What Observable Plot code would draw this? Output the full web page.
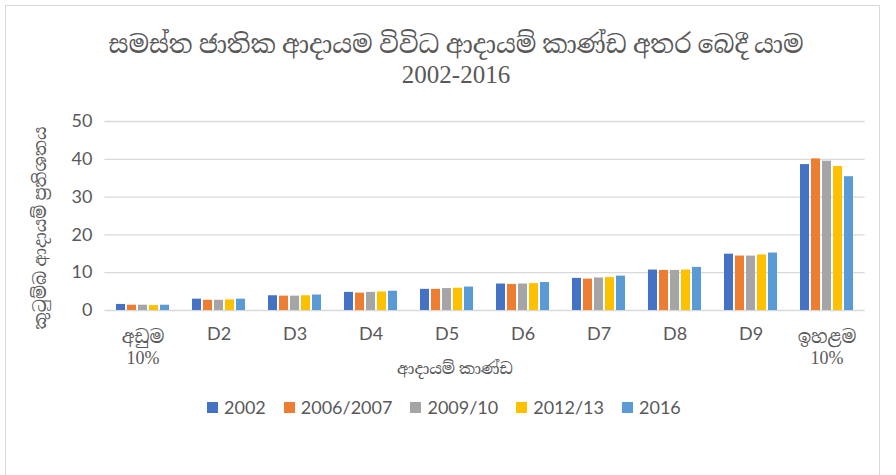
<!DOCTYPE html>
<html>
<head>
<meta charset="utf-8">
<script src="https://cdn.jsdelivr.net/npm/d3@7"></script>
<script src="https://cdn.jsdelivr.net/npm/@observablehq/plot@0.6"></script>
<style>
  body { margin: 0; background: #fff; }
  #wrap { position: relative; width: 896px; height: 475px; overflow: hidden; background: #fff; }
  #frame { position: absolute; left: 5px; top: 5px; width: 875px; height: 480px; border: 1px solid #d9d9d9; box-sizing: border-box; }
  #chart { position: absolute; left: 0; top: 0; }
  .t { position: absolute; color: #595959; white-space: nowrap; font-family: "Liberation Serif", "Noto Serif Sinhala", "Noto Sans Sinhala", "Iskoola Pota", serif; }
  #title1 { left: 0; width: 912px; top: 30px; text-align: center; font-size: 25px; line-height: 30px; }
  #title2 { left: 0; width: 912px; top: 60px; text-align: center; font-size: 25px; line-height: 30px; }
  #ylabel { left: 40px; top: 228px; font-size: 17px; transform: translate(-50%, -50%) rotate(-90deg); }
  #xlabel { left: 455px; top: 368px; font-size: 16px; transform: translate(-50%, -50%); }
  #legend { position: absolute; left: 207px; top: 396px; display: flex; gap: 18px; font-family: Lato, "Open Sans", sans-serif; font-size: 18px; color: #595959; }
  #legend .it { display: flex; align-items: center; gap: 6px; }
  #legend .sw { width: 11px; height: 11px; }
</style>
</head>
<body>
<div id="wrap">
  <div id="frame"></div>
  <div id="chart"></div>
  <div class="t" id="title1">සමස්ත ජාතික ආදායම විවිධ ආදායම් කාණ්ඩ අතර බෙදී යාම</div>
  <div class="t" id="title2">2002-2016</div>
  <div class="t" id="ylabel">කුටුම්බ ආදායම් ප්‍රතිශතය</div>
  <div class="t" id="xlabel">ආදායම් කාණ්ඩ</div>
  <div id="legend"></div>
</div>
<script>
const categories = ["අඩුම 10%", "D2", "D3", "D4", "D5", "D6", "D7", "D8", "D9", "ඉහළම 10%"];
const series = ["2002", "2006/2007", "2009/10", "2012/13", "2016"];
const colors = ["#4472C4", "#ED7D31", "#A5A5A5", "#FFC000", "#5B9BD5"];
const yTicks = [0, 10, 20, 30, 40, 50];

const v2002 = [1.6, 3.0, 3.9, 4.8, 5.6, 7.0, 8.5, 10.7, 14.9, 38.6];
const v2006 = [1.4, 2.7, 3.8, 4.6, 5.6, 6.9, 8.3, 10.6, 14.4, 40.1];
const v2009 = [1.4, 2.7, 3.8, 4.8, 5.8, 7.0, 8.6, 10.6, 14.4, 39.5];
const v2012 = [1.3, 2.8, 3.9, 4.9, 5.9, 7.1, 8.7, 10.7, 14.7, 38.1];
const v2016 = [1.4, 3.0, 4.1, 5.1, 6.2, 7.4, 9.1, 11.4, 15.2, 35.4];

const valuesBySeries = [v2002, v2006, v2009, v2012, v2016];
const data = [];
series.forEach((s, i) => categories.forEach((c, j) => data.push({cat: c, series: s, value: valuesBySeries[i][j]})));

const sansFont = "Lato, 'Open Sans', sans-serif";
const serifFont = "'Liberation Serif', 'Noto Serif Sinhala', 'Noto Sans Sinhala', serif";

const chart = Plot.plot({
  width: 896,
  height: 475,
  marginLeft: 102,
  marginRight: 29,
  marginTop: 121,
  marginBottom: 165,
  style: {background: "transparent", color: "#595959"},
  fx: {domain: categories, paddingInner: 0.25, paddingOuter: 0.125, label: null, axis: null},
  x: {domain: series, paddingInner: 0.18, paddingOuter: 0, axis: null},
  y: {domain: [0, 50], label: null, axis: null},
  color: {domain: series, range: colors},
  marks: [
    Plot.ruleY(yTicks, {stroke: "#d9d9d9", strokeWidth: 1.3, insetLeft: -9.6, insetRight: -9.6}),
    Plot.barY(data, {fx: "cat", x: "series", y: "value", fill: "series"}),
    Plot.axisY({ticks: yTicks, tickSize: 0, tickPadding: 22, fontSize: 18, fontFamily: sansFont, fill: "#595959", label: null}),
    Plot.axisFx({anchor: "bottom", ticks: categories.slice(1, 9), tickSize: 0, tickPadding: 17, fontSize: 18, fontFamily: sansFont, fill: "#595959", label: null}),
    Plot.axisFx({anchor: "bottom", ticks: [categories[0], categories[9]], tickFormat: d => d.replace(" ", "\n"), tickSize: 0, tickPadding: 17, fontSize: 18, lineHeight: 1.2, fontFamily: serifFont, fill: "#595959", label: null})
  ]
});
document.getElementById("chart").appendChild(chart);

const legend = document.getElementById("legend");
series.forEach((s, i) => {
  const it = document.createElement("div");
  it.className = "it";
  const sw = document.createElement("div");
  sw.className = "sw";
  sw.style.background = colors[i];
  const tx = document.createElement("span");
  tx.textContent = s;
  it.appendChild(sw);
  it.appendChild(tx);
  legend.appendChild(it);
});
</script>
</body>
</html>
